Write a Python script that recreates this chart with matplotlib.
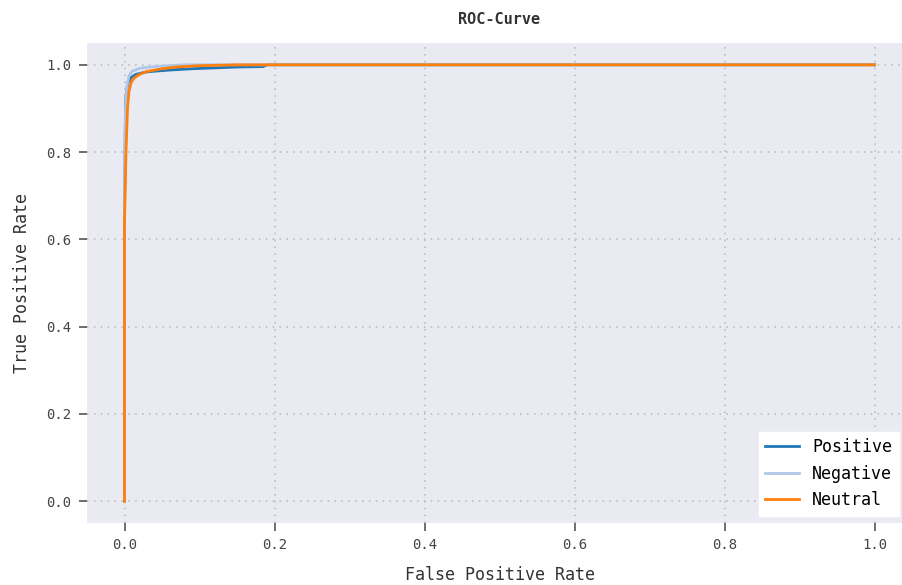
import matplotlib
matplotlib.use("Agg")
import matplotlib.pyplot as plt

plt.rcParams['font.family'] = ['DejaVu Sans Mono']

labels = ["Positive", "Negative", "Neutral"]
colors = ["#1f77b4", "#aec7e8", "#ff7f0e"]

pos_fpr = [0.0, 0.0, 0.001, 0.002, 0.004, 0.008, 0.015, 0.03, 0.06, 0.09, 0.12, 0.15, 0.185, 0.19, 1.0]
pos_tpr = [0.0, 0.65, 0.85, 0.93, 0.955, 0.970, 0.978, 0.984, 0.988, 0.991, 0.993, 0.995, 0.996, 1.0, 1.0]

neg_fpr = [0.0, 0.0, 0.001, 0.003, 0.006, 0.010, 0.02, 0.04, 0.06, 0.08, 1.0]
neg_tpr = [0.0, 0.70, 0.88, 0.950, 0.975, 0.985, 0.992, 0.996, 0.998, 1.0, 1.0]

neu_fpr = [0.0, 0.0, 0.002, 0.004, 0.006, 0.009, 0.013, 0.02, 0.03, 0.05, 0.07, 0.10, 0.15, 1.0]
neu_tpr = [0.0, 0.64, 0.80, 0.90, 0.940, 0.960, 0.970, 0.978, 0.985, 0.991, 0.995, 0.998, 1.0, 1.0]

xticks = [0.0, 0.2, 0.4, 0.6, 0.8, 1.0]
yticks = [0.0, 0.2, 0.4, 0.6, 0.8, 1.0]

fig = plt.figure(figsize=(9.02, 5.85), dpi=100)
ax = fig.add_axes([87/902, 62/585, 825/902, 480/585])
ax.set_facecolor("#eaeaf2")
for s in ax.spines.values():
    s.set_visible(False)

for f, t, lab, c in zip([pos_fpr, neg_fpr, neu_fpr], [pos_tpr, neg_tpr, neu_tpr], labels, colors):
    ax.plot(f, t, color=c, lw=2, label=lab)

ax.set_xlim(-0.05, 1.05)
ax.set_ylim(-0.05, 1.05)
ax.set_xticks(xticks)
ax.set_yticks(yticks)
ax.set_xticklabels([f"{v:.1f}" for v in xticks])
ax.set_yticklabels([f"{v:.1f}" for v in yticks])
ax.tick_params(axis='both', colors="#555555", labelcolor="#444444", labelsize=10,
               length=6, width=1.2, pad=5)
ax.grid(True, color="#b8b8b8", linestyle=(0, (1, 3.5)), linewidth=1.1)
ax.set_axisbelow(True)

ax.set_xlabel("False Positive Rate", fontsize=12, color="#333333", labelpad=10)
ax.set_ylabel("True Positive Rate", fontsize=12, color="#333333", labelpad=11)
ax.set_title("ROC-Curve", fontsize=11, fontweight="bold", color="#333333", pad=14)

leg = ax.legend(loc="lower right", fontsize=12, frameon=True, facecolor="white",
                edgecolor="white", framealpha=1.0, fancybox=False,
                bbox_to_anchor=(0.99, 0.005), borderaxespad=0.3)

fig.savefig("out.png", dpi=100)
